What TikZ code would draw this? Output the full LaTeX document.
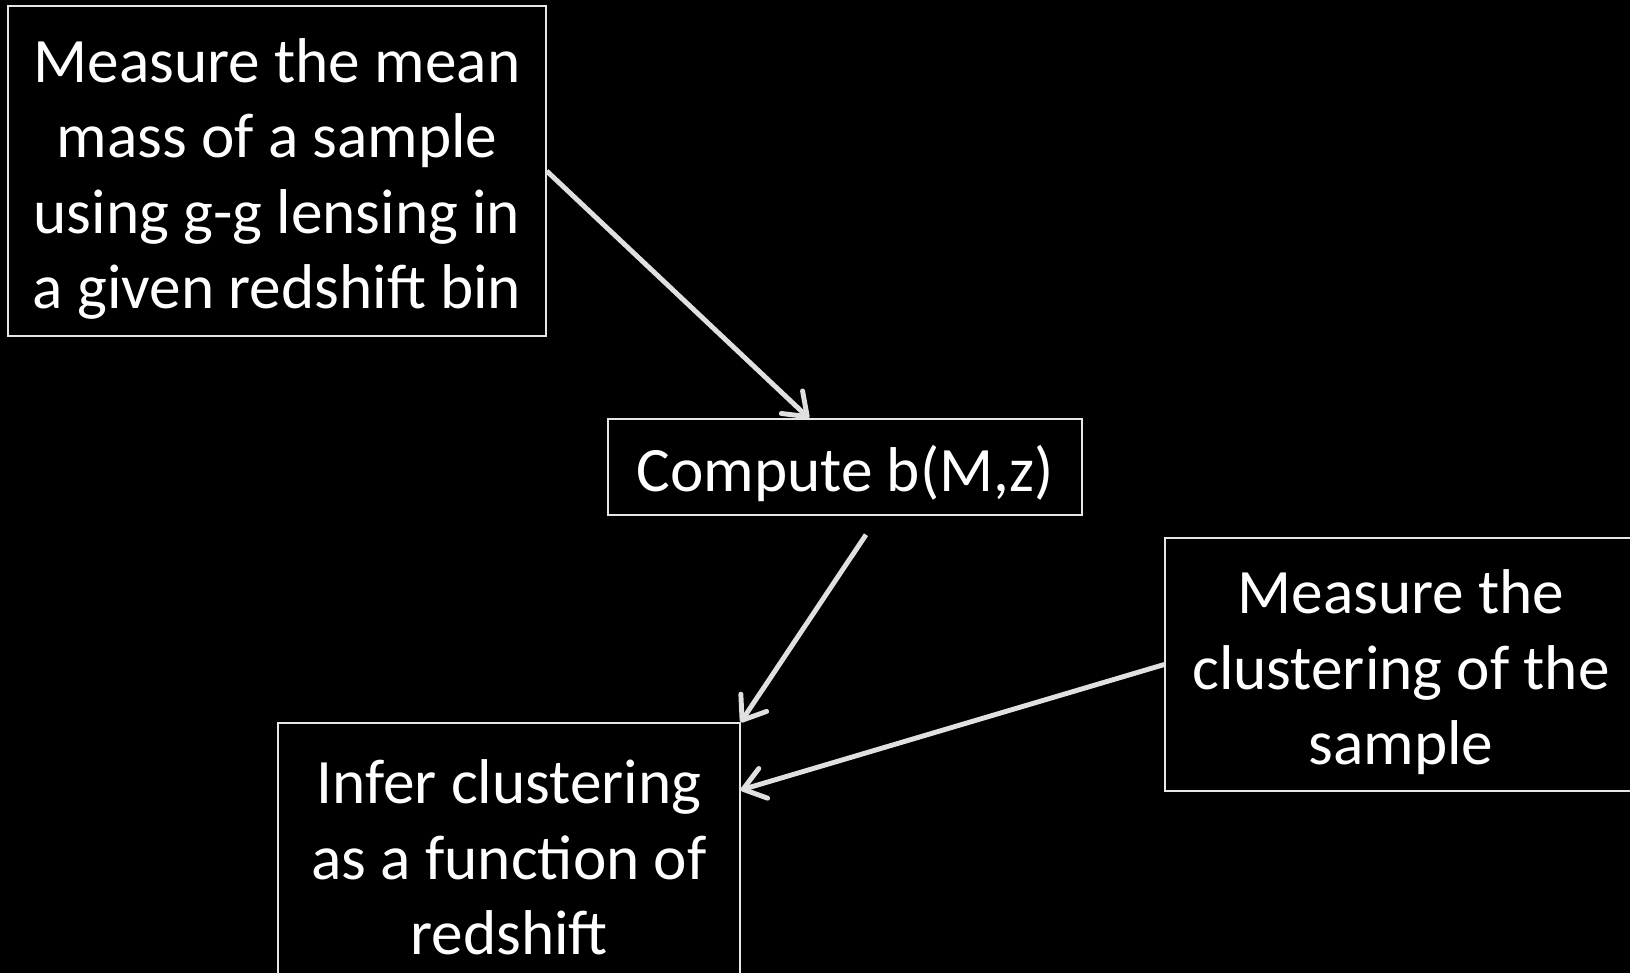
\documentclass[tikz,border=0pt]{standalone}
\usepackage{fontspec}
\setmainfont{Carlito}
\usetikzlibrary{arrows.meta,positioning}
\definecolor{boxline}{HTML}{E6E6E6}
\definecolor{arrowline}{HTML}{E0E0E0}
% taller first line, pushes the text block a little down
\newcommand{\topline}{\rule{0pt}{1.2cm}}

\begin{document}
\begin{tikzpicture}[
  stage/.style={draw=boxline,line width=0.8pt,text=white,align=center,inner sep=0pt,
    font=\fontsize{36}{43}\selectfont},
  flow/.style={arrowline,line width=2.8pt,-{Straight Barb[length=0.42cm,width=0.62cm,round]}},
]
  \useasboundingbox (0,0) rectangle (32.6,-19.46);
  \fill[black] (0,0) rectangle (32.6,-19.46);

  \node[stage,minimum width=10.76cm,minimum height=6.6cm] (mass) at (5.54,-3.42)
    {\topline Measure the mean\\mass of a sample\\using g-g lensing in\\a given redshift bin};
  \node[stage,minimum width=9.48cm,minimum height=1.92cm] (bias) at (16.9,-9.34) {\topline Compute b(M,z)};
  \node[stage,minimum width=9.44cm,minimum height=5.06cm] (clust) at (28.02,-13.29)
    {\topline Measure the\\clustering of the\\sample};
  \node[stage,minimum width=9.24cm,minimum height=5.06cm] (infer) at (10.18,-16.99)
    {\topline Infer clustering\\as a function of\\redshift};

  \draw[flow] (mass.east) -- ([xshift=-0.72cm]bias.north);
  \draw[flow] ([xshift=0.42cm,yshift=-0.38cm]bias.south) -- (infer.north east);
  \draw[flow] (clust.west) -- ([yshift=1.19cm]infer.east);
\end{tikzpicture}
\end{document}
